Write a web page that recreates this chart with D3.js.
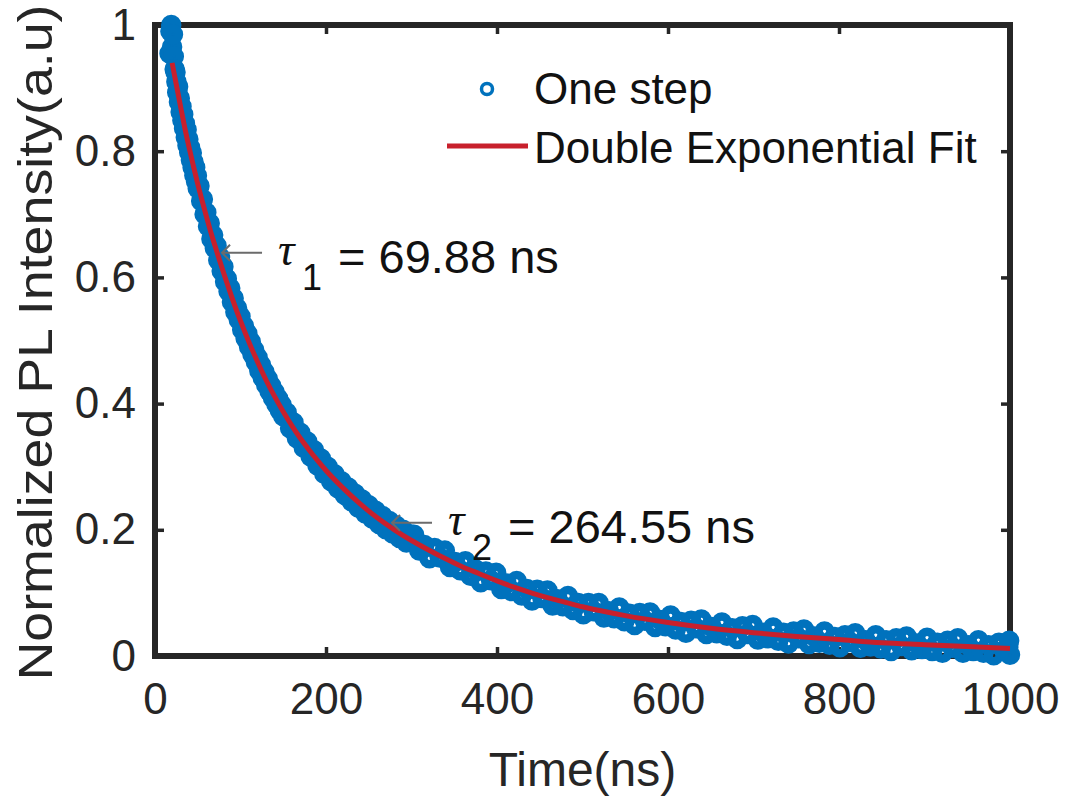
<!DOCTYPE html>
<html>
<head>
<meta charset="utf-8">
<script src="https://cdnjs.cloudflare.com/ajax/libs/d3/7.8.5/d3.min.js"></script>
<style>
  body { margin: 0; background: #fff; }
  svg text { font-family: "Liberation Sans", Arial, Helvetica, sans-serif; }
</style>
</head>
<body>
<script>
const timeNs = [
  17,18,19,20,21,22,23,24,25,26,27,28,29,30,31,32,33,34,35,36,37,38,39,40,41,42,43,44,45,46,47,48,49,50,
  52,54,56,58,60,62,64,66,68,70,72,74,76,78,80,82,84,86,88,90,92,94,96,98,100,102,104,106,108,110,
  112,114,116,118,120,122,124,126,128,130,132,134,136,138,140,142,144,146,148,150,
  154,158,162,166,170,174,178,182,186,190,194,198,202,206,210,214,218,222,226,230,234,238,242,246,250,
  254,258,262,266,270,274,278,282,286,290,294,298,
  303,309,315,321,327,333,339,345,351,357,363,369,375,381,387,393,399,405,411,417,423,429,435,441,447,
  453,459,465,471,477,483,489,495,501,507,513,519,525,531,537,543,549,555,561,567,573,579,585,591,597,
  603,609,615,621,627,633,639,645,651,657,663,669,675,681,687,693,699,705,711,717,723,729,735,741,747,
  753,759,765,771,777,783,789,795,801,807,813,819,825,831,837,843,849,855,861,867,873,879,885,891,897,
  903,909,915,921,927,933,939,945,951,957,963,969,975,981,987,993,998,999,1000
];
const intensity = [
  .955,.99,1.0,.965,.985,.95,.93,.925,.91,.893,.902,.878,.884,.862,.871,.849,.858,.836,.844,.822,.834,.809,.819,.798,.806,.786,.797,.774,.783,.762,.774,.752,.761,.741,
  .745,.721,.724,.700,.703,.681,.686,.661,.667,.646,.650,.627,.632,.610,.617,.593,.598,.578,.583,.561,.567,.545,.551,.533,.538,.517,.523,.503,.511,.490,
  .498,.478,.485,.466,.473,.452,.461,.441,.450,.430,.439,.419,.428,.409,.418,.399,.408,.389,.398,.380,
  .386,.361,.370,.345,.354,.330,.340,.316,.326,.302,.313,.289,.300,.277,.288,.266,.277,.255,.267,.245,.257,.235,.248,.226,.239,
  .218,.230,.209,.222,.201,.214,.194,.207,.187,.200,.180,.193,
  .192,.167,.176,.155,.171,.156,.167,.141,.149,.136,.150,.127,.137,.117,.134,.120,.132,.106,.115,.103,.119,.096,.106,.088,.105,
  .092,.104,.080,.090,.079,.095,.073,.084,.066,.084,.071,.084,.061,.071,.060,.077,.055,.067,.049,.068,.056,.069,.046,.057,.047,
  .064,.042,.054,.037,.056,.044,.058,.035,.046,.036,.053,.032,.044,.027,.047,.035,.049,.026,.037,.028,.045,.024,.037,.020,.039,
  .028,.042,.019,.031,.021,.039,.018,.030,.014,.033,.022,.036,.013,.025,.015,.033,.012,.025,.008,.028,.016,.031,.009,.020,.011,
  .029,.008,.021,.005,.024,.013,.028,.005,.017,.008,.025,.005,.017,.001,.021,.009,.014,.024,.002
];

// double exponential fit curve
const fitTime = [20,25,30,35,40,45,50,55,60,65,70,75,80,85,90,95,100,110,120,130,140,150,160,170,180,190,200,
  220,240,260,280,300,320,340,360,380,400,420,440,460,480,500,520,550,600,650,700,750,800,850,900,950,1000];
const fitIntensity = [.94,.905,.87,.836,.805,.776,.748,.722,.697,.673,.651,.629,.608,.588,.568,.549,.531,.497,.466,.437,.411,.387,.365,.345,.327,.310,.294,
  .266,.241,.219,.200,.183,.168,.154,.141,.130,.119,.109,.100,.092,.085,.078,.072,.064,.053,.044,.037,.031,.026,.021,.018,.015,.012];

const xTicks = [0, 200, 400, 600, 800, 1000];
const yTicks = [0, 0.2, 0.4, 0.6, 0.8, 1];
const legendLabels = ["One step", "Double Exponential Fit"];
const annotations = [
  { t: 78.4, v: 0.639, sub: "1", label: "= 69.88 ns" },
  { t: 277.2, v: 0.211, sub: "2", label: "= 264.55 ns" }
];

const w = 1066, h = 801;
const blue = "#0072bd", red = "#c8202c", ink = "#262626";

const svg = d3.select("body").append("svg")
  .attr("width", w)
  .attr("height", h);

const x = d3.scaleLinear().domain([0, 1000]).range([155, 1010]);
const y = d3.scaleLinear().domain([0, 1]).range([656, 25]);

// axes box and ticks (MATLAB style, ticks inward)
function styleAxis(g) {
  g.select(".domain").remove();
  g.selectAll(".tick line").attr("stroke", ink).attr("stroke-width", 3.5);
  g.selectAll(".tick text").attr("fill", ink).style("font-size", "44px");
}

svg.append("g")
  .attr("transform", "translate(0," + y(0) + ")")
  .call(d3.axisBottom(x).tickValues(xTicks).tickSize(-9).tickPadding(27).tickFormat(d3.format("d")))
  .call(styleAxis);
svg.append("g")
  .attr("transform", "translate(0," + y(1) + ")")
  .call(d3.axisTop(x).tickValues(xTicks).tickSize(-9).tickFormat(""))
  .call(styleAxis);
svg.append("g")
  .attr("transform", "translate(" + x(0) + ",0)")
  .call(d3.axisLeft(y).tickValues(yTicks).tickSize(-9).tickPadding(19).tickFormat(d => d === 0 || d === 1 ? d3.format("d")(d) : d3.format(".1f")(d)))
  .call(styleAxis);
svg.append("g")
  .attr("transform", "translate(" + x(1000) + ",0)")
  .call(d3.axisRight(y).tickValues(yTicks).tickSize(-9).tickFormat(""))
  .call(styleAxis);

svg.append("rect")
  .attr("x", x(0))
  .attr("y", y(1))
  .attr("width", x(1000) - x(0))
  .attr("height", y(0) - y(1))
  .attr("fill", "none")
  .attr("stroke", ink)
  .attr("stroke-width", 6);

// axis labels
svg.append("text")
  .attr("x", (x(0) + x(1000)) / 2)
  .attr("y", 786)
  .attr("text-anchor", "middle")
  .attr("fill", ink)
  .style("font-size", "48px")
  .text("Time(ns)");

svg.append("text")
  .attr("transform", "translate(52," + ((y(0) + y(1)) / 2 + 2) + ") rotate(-90)")
  .attr("text-anchor", "middle")
  .attr("fill", ink)
  .attr("textLength", 676)
  .attr("lengthAdjust", "spacingAndGlyphs")
  .style("font-size", "49px")
  .text("Normalized PL Intensity(a.u)");

// data markers (dense hollow circles, overlapping into a band)
svg.append("g")
  .selectAll("circle")
  .data(timeNs)
  .enter()
  .append("circle")
  .attr("cx", d => x(d))
  .attr("cy", (d, i) => y(intensity[i]))
  .attr("r", 6)
  .attr("fill", "none")
  .attr("stroke", blue)
  .attr("stroke-width", 8.5);

// fit line
const line = d3.line()
  .x(d => x(d[0]))
  .y(d => y(d[1]))
  .curve(d3.curveMonotoneX);
svg.append("path")
  .datum(fitTime.map((t, i) => [t, fitIntensity[i]]))
  .attr("d", line)
  .attr("fill", "none")
  .attr("stroke", red)
  .attr("stroke-width", 5);

// annotations: \leftarrow \tau_n = ...
annotations.forEach(a => {
  const ax = x(a.t), ay = y(a.v);
  svg.append("path")
    .attr("d", "M" + (ax + 40) + "," + ay + "H" + (ax + 1) + "M" + (ax + 8) + "," + (ay - 8) + "L" + ax + "," + ay + "L" + (ax + 8) + "," + (ay + 8))
    .attr("fill", "none")
    .attr("stroke", "#6b6b6b")
    .attr("stroke-width", 2);
  svg.append("text")
    .attr("x", ax + 56)
    .attr("y", ay + 12)
    .attr("fill", "#111")
    .style("font-size", "46px")
    .style("font-style", "italic")
    .style("font-family", "'Liberation Serif', 'DejaVu Serif', serif")
    .text("τ");
  svg.append("text")
    .attr("x", ax + 80)
    .attr("y", ay + 37)
    .attr("fill", "#111")
    .style("font-size", "36px")
    .text(a.sub);
  svg.append("text")
    .attr("x", ax + 116)
    .attr("y", ay + 20)
    .attr("fill", "#111")
    .style("font-size", "47px")
    .text(a.label);
});

// legend (no box)
const lg = svg.append("g");
lg.append("circle")
  .attr("cx", 487)
  .attr("cy", 89)
  .attr("r", 5.5)
  .attr("fill", "none")
  .attr("stroke", blue)
  .attr("stroke-width", 3.5);
lg.append("line")
  .attr("x1", 447).attr("x2", 528)
  .attr("y1", 146).attr("y2", 146)
  .attr("stroke", red)
  .attr("stroke-width", 5);
lg.selectAll("text")
  .data(legendLabels)
  .enter()
  .append("text")
  .attr("x", 534)
  .attr("y", (d, i) => 104 + i * 59)
  .attr("fill", "#111")
  .style("font-size", "44px")
  .text(d => d);
</script>
</body>
</html>
